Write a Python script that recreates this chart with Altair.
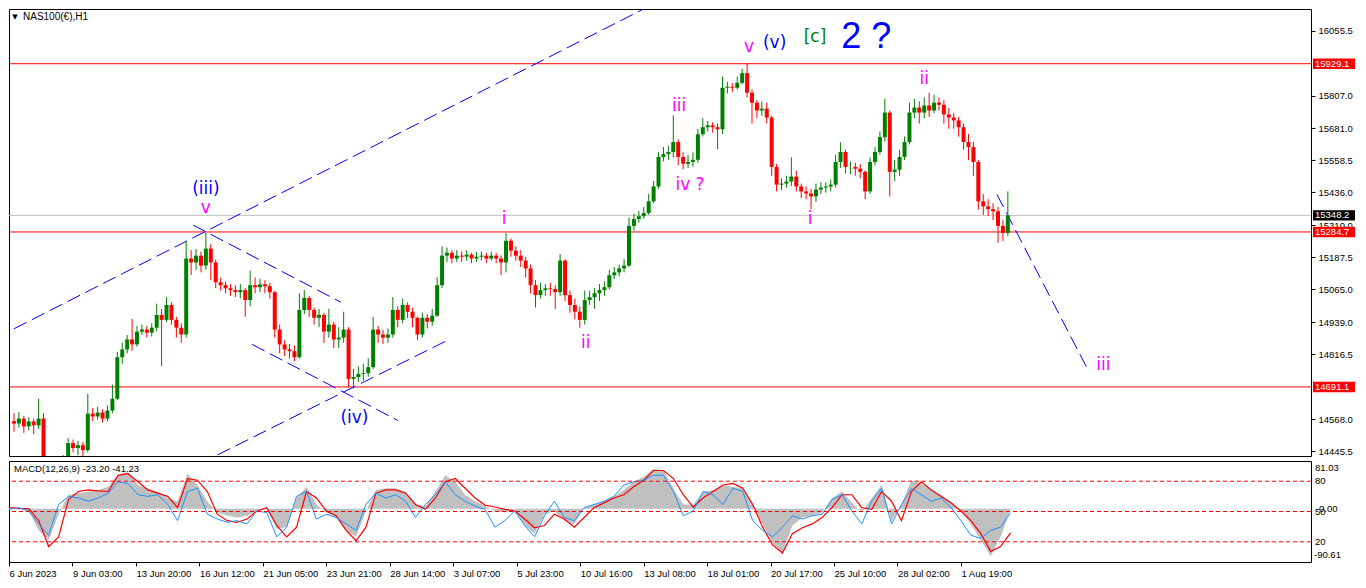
import altair as alt
import pandas as pd

# ---------------- candles (5-hour buckets of the H1 chart) ----------------
OPEN0 = 14560
CANDLE_HOURS = 5
closes = [
    14551, 14570, 14540, 14559, 14544, 14570, 14381, 14374, 14389, 14381,
    14412, 14476, 14457, 14468, 14449, 14589, 14578, 14593, 14570, 14601,
    14646, 14805, 14835, 14873, 14854, 14903, 14911, 14899, 14918, 14967,
    14948, 15005, 14948, 14918, 14892, 15183, 15168, 15194, 15156, 15221,
    15168, 15092, 15081, 15069, 15062, 15054, 15062, 15024, 15081, 15073,
    15084, 15077, 15054, 14911, 14854, 14835, 14828, 14805, 14986, 15032,
    14986, 14956, 14967, 14903, 14930, 14873, 14880, 14911, 14722, 14729,
    14741, 14744, 14767, 14911, 14892, 14880, 14892, 14986, 14948, 15005,
    14979, 14956, 14892, 14956, 14941, 14964, 15081, 15194, 15205, 15183,
    15194, 15190, 15198, 15183, 15190, 15194, 15183, 15194, 15183, 15168,
    15251, 15213, 15194, 15175, 15145, 15081, 15043, 15062, 15069, 15066,
    15054, 15175, 15043, 15005, 14979, 14948, 15024, 15035, 15050, 15062,
    15073, 15119, 15130, 15145, 15156, 15308, 15334, 15345, 15357, 15402,
    15459, 15572, 15583, 15591, 15629, 15572, 15546, 15553, 15561, 15659,
    15686, 15693, 15686, 15678, 15837, 15841, 15837, 15856, 15893, 15818,
    15780, 15750, 15757, 15723, 15534, 15466, 15470, 15478, 15497, 15459,
    15440, 15432, 15421, 15447, 15455, 15459, 15466, 15553, 15591, 15534,
    15534, 15527, 15515, 15440, 15553, 15591, 15648, 15742, 15515, 15523,
    15572, 15629, 15742, 15761, 15742, 15769, 15750, 15780, 15772, 15735,
    15723, 15712, 15686, 15629, 15610, 15553, 15402, 15383, 15372, 15364,
    15308, 15281, 15348,
]
highs = [
    14590, 14595, 14580, 14575, 14570, 14646, 14590, 14400, 14405, 14400,
    14430, 14495, 14490, 14485, 14480, 14665, 14610, 14615, 14605, 14620,
    14700, 14825, 14860, 14890, 14952, 14925, 14930, 14925, 14935, 15010,
    14990, 15035, 15015, 14960, 14935, 15250, 15215, 15220, 15210, 15281,
    15240, 15180, 15110, 15095, 15085, 15080, 15085, 15070, 15137, 15110,
    15105, 15100, 15090, 15060, 14930, 14870, 14855, 14850, 15050, 15062,
    15040, 14995, 14990, 14975, 14990, 14940, 14920, 14979, 14920, 14760,
    14770, 14780, 14800, 14960, 14925, 14910, 14915, 15035, 15000, 15030,
    15015, 14995, 14960, 14975, 14970, 14990, 15110, 15230, 15225, 15215,
    15215, 15210, 15215, 15205, 15208, 15210, 15205, 15210, 15205, 15195,
    15281, 15260, 15230, 15215, 15190, 15160, 15100, 15090, 15085, 15090,
    15080, 15200, 15180, 15060, 15030, 15000, 15060, 15060, 15070, 15085,
    15095, 15140, 15150, 15160, 15180, 15340, 15355, 15365, 15380, 15430,
    15480, 15590, 15610, 15615, 15731, 15640, 15590, 15580, 15590, 15680,
    15720, 15710, 15705, 15700, 15880, 15860, 15855, 15880, 15910, 15931,
    15830, 15790, 15785, 15780, 15730, 15545, 15490, 15500, 15570, 15520,
    15470, 15460, 15450, 15470, 15475, 15475, 15485, 15580, 15628, 15600,
    15555, 15550, 15545, 15520, 15570, 15610, 15670, 15795, 15750, 15560,
    15600, 15650, 15780, 15795, 15785, 15800, 15818, 15810, 15800, 15790,
    15760, 15740, 15725, 15700, 15660, 15630, 15560, 15430, 15410, 15395,
    15380, 15330, 15440,
]
lows = [
    14520, 14535, 14515, 14525, 14510, 14530, 14360, 14350, 14355, 14360,
    14370, 14405, 14440, 14430, 14425, 14440, 14560, 14565, 14555, 14560,
    14590, 14640, 14780, 14820, 14830, 14845, 14890, 14880, 14885, 14905,
    14771, 14940, 14930, 14880, 14860, 14880, 15120, 15140, 15130, 15140,
    15100, 15070, 15060, 15050, 15040, 15035, 15030, 14960, 15000, 15050,
    15055, 15050, 15030, 14880, 14820, 14810, 14800, 14790, 14800, 14970,
    14960, 14930, 14920, 14860, 14880, 14840, 14840, 14860, 14690, 14685,
    14710, 14715, 14730, 14760, 14860, 14855, 14860, 14880, 14920, 14935,
    14955, 14920, 14870, 14880, 14915, 14925, 14960, 15070, 15170, 15165,
    15170, 15170, 15175, 15165, 15170, 15175, 15165, 15175, 15165, 15120,
    15130, 15190, 15175, 15150, 15110, 15050, 14995, 15030, 15040, 15040,
    14990, 15040, 15020, 14975, 14950, 14918, 14930, 15005, 14990, 15020,
    15040, 15065, 15105, 15115, 15130, 15150, 15290, 15320, 15335, 15350,
    15395, 15450, 15555, 15560, 15570, 15540, 15525, 15530, 15535, 15550,
    15650, 15670, 15665, 15602, 15660, 15815, 15820, 15830, 15850, 15800,
    15700, 15720, 15730, 15700, 15500, 15440, 15445, 15455, 15460, 15440,
    15415, 15410, 15372, 15400, 15430, 15435, 15440, 15455, 15530, 15510,
    15505, 15500, 15490, 15410, 15430, 15540, 15580, 15630, 15420, 15480,
    15500, 15560, 15620, 15720, 15700, 15720, 15725, 15740, 15750, 15700,
    15680, 15680, 15650, 15600, 15560, 15500, 15370, 15350, 15345, 15330,
    15243, 15250, 15270,
]

# ---------------- MACD panel (sampled every 10 hours) ----------------
MACD_HOURS = 10
macd_hist = [
    1.7, -1.1, -3.9, -36.9, -53.4, -9.4, 23.7, 26.4, 29.2, 31.9,
    37.4, 56.7, 62.2, 40.2, 34.7, 29.2, 18.2, 12.7, 59.4, 40.2,
    12.7, -6.6, -12.1, -14.9, -12.1, -3.9, -1.1, -34.1, -31.4, 18.2,
    37.4, 7.2, -6.6, -14.9, -36.9, -47.9, -3.9, 31.9, 34.7, 34.7,
    29.2, 7.2, 4.4, 29.2, 56.7, 45.7, 23.7, 12.7, 4.4, -3.9,
    -6.6, -1.1, -28.6, -42.4, -9.4, -3.9, -20.4, -25.9, 1.7, 7.2,
    12.7, 20.9, 31.9, 45.7, 53.9, 67.7, 64.9, 34.7, 7.2, 7.2,
    29.2, 31.9, 40.2, 37.4, 34.7, 7.2, -25.9, -58.9, -75.4, -28.6,
    -14.9, -12.1, -6.6, 18.2, 29.2, 9.9, -6.6, 18.2, 40.2, -20.4,
    7.2, 48.4, 42.9, 31.9, 23.7, 9.9, -3.9, -25.9, -53.4, -80.9,
    -47.9, -1.1,
]
macd_signal = [
    1.7, 0.6, 0.0, -20.4, -64.4, -47.9, 15.4, 29.2, 31.9, 30.3,
    29.2, 56.7, 59.4, 45.7, 31.9, 26.4, 20.9, 1.7, 51.2, 48.4,
    29.2, -9.4, -20.4, -23.1, -17.6, -3.9, 1.7, -28.6, -47.9, -31.4,
    29.2, 18.2, -3.9, -12.1, -36.9, -54.5, -31.4, 26.4, 31.9, 31.9,
    26.4, 7.2, -1.1, 18.2, 45.7, 51.2, 34.7, 18.2, 6.1, 2.8,
    -1.1, -3.9, -17.6, -32.5, -28.6, -9.4, -17.6, -31.4, -14.9, 1.7,
    9.9, 18.2, 23.7, 37.4, 48.4, 64.9, 64.9, 51.2, 23.7, 2.8,
    18.2, 29.2, 40.2, 42.9, 34.7, 7.2, -31.4, -61.6, -75.4, -42.4,
    -32.5, -25.9, -14.9, 1.7, 23.7, 23.7, 1.7, -1.1, 29.2, 12.7,
    -20.4, 29.2, 45.7, 31.9, 20.9, 9.9, -3.9, -20.4, -42.4, -72.6,
    -64.4, -41.2,
]
macd_fast = [
    -1.1, 1.7, -3.9, -25.9, -45.1, 7.2, 20.9, 18.2, 12.7, 18.2,
    26.4, 45.7, 42.9, 23.7, 20.9, 23.7, 7.2, -20.4, 29.2, 34.7,
    -9.4, -17.6, -23.1, -20.4, -25.9, -3.9, -6.6, -47.9, -31.4, 20.9,
    29.2, -17.6, -9.4, -14.9, -25.9, -36.9, 7.2, 26.4, 18.2, 23.7,
    12.7, -14.9, 7.2, 23.7, 45.7, 23.7, 12.7, 4.4, -1.1, -31.4,
    -20.4, -3.9, -28.6, -47.9, -12.1, 12.7, -14.9, -20.4, 1.7, 7.2,
    12.7, 20.9, 40.2, 45.7, 48.4, 56.7, 56.7, 29.2, -12.1, -3.9,
    29.2, 23.7, 7.2, 34.7, 29.2, -20.4, -36.9, -47.9, -31.4, -12.1,
    -17.6, -12.1, -9.4, 15.4, 23.7, -3.9, -25.9, 12.7, 34.7, -25.9,
    7.2, 34.7, 23.7, 12.7, 18.2, 1.7, -20.4, -45.1, -50.6, -36.9,
    -31.4, -6.6,
]
MACD_MIN, MACD_MAX = -90.61, 81.03
stoch_levels = [80, 50, 20]

# ---------------- levels, ticks, annotations ----------------
red_levels = [15929.1, 15284.7, 14691.1]
bid_price = 15348.2
tag_prices = [15929.1, 15348.2, 15284.7, 14691.1]
tag_fills = ["#ff0000", "#000000", "#ff0000", "#ff0000"]
price_ticks = [16055.5, 15807.0, 15681.0, 15558.5, 15436.0, 15310.0,
               15187.5, 15065.0, 14939.0, 14816.5, 14568.0, 14445.5]
tick_hours = [0, 64, 128, 192, 256, 320, 384, 448, 512, 576, 640, 704, 768, 832, 896, 960]
tick_labels = ["6 Jun 2023", "9 Jun 03:00", "13 Jun 20:00", "16 Jun 12:00",
               "21 Jun 05:00", "23 Jun 21:00", "28 Jun 14:00", "3 Jul 07:00",
               "5 Jul 23:00", "10 Jul 16:00", "13 Jul 08:00", "18 Jul 01:00",
               "20 Jul 17:00", "25 Jul 10:00", "28 Jul 02:00", "1 Aug 19:00"]

seg_ids = ["a", "a", "b", "b", "c", "c", "d", "d", "e", "e"]
seg_hours = [0, 640, 207, 438, 182, 332, 242, 390, 999, 1090]
seg_prices = [14914, 16139, 14431, 14865, 15311, 15016, 14854, 14563, 15428, 14767]

wave_hours = [195, 195, 346, 498, 581, 676, 687, 747, 773, 814, 925, 809, 1107]
wave_prices = [15451, 15375, 14572, 15334, 14861, 15769, 15466, 15995, 16009, 16031, 15871, 15334, 14775]
wave_text = ["(iii)", "v", "(iv)", "i", "ii", "iii", "iv ?", "v", "(v)", "[c]", "ii", "i", "iii"]
wave_color = ["#0000ff", "#ff00ff", "#0000ff", "#ff00ff", "#ff00ff", "#ff00ff", "#ff00ff",
              "#ff00ff", "#0000ff", "#008000", "#ff00ff", "#ff00ff", "#ff00ff"]
big_hours = [866]
big_prices = [16033]
big_text = ["2 ?"]

# ---------------- build frames ----------------
opens = [OPEN0] + closes[:-1]
candles = pd.DataFrame({
    "t": [i * CANDLE_HOURS for i in range(len(closes))],
    "open": opens, "close": closes, "high": highs, "low": lows,
    "dir": ["up" if c >= o else "down" for o, c in zip(opens, closes)],
})
macd = pd.DataFrame({
    "t": [i * MACD_HOURS for i in range(len(macd_hist))],
    "hist": macd_hist, "signal": macd_signal, "fast": macd_fast,
})
segs = pd.DataFrame({"seg": seg_ids, "t": seg_hours, "p": seg_prices})
waves = pd.DataFrame({"t": wave_hours, "p": wave_prices, "txt": wave_text, "col": wave_color})
bigs = pd.DataFrame({"t": big_hours, "p": big_prices, "txt": big_text})
tags = pd.DataFrame({"price": tag_prices, "fill": tag_fills})
reds = pd.DataFrame({"p": red_levels})
bid = pd.DataFrame({"p": [bid_price]})
lv = pd.DataFrame({"lvl": stoch_levels, "txt": [str(v) for v in stoch_levels]})

W, H1, H2 = 1302, 447, 101
FONT = "Liberation Sans"
xsc = alt.Scale(domain=[0, 1313], nice=False, zero=False)
ysc = alt.Scale(domain=[14426.6, 16138.7], nice=False, zero=False)
yax = alt.Axis(orient="right", values=price_ticks, format=".1f", title=None, grid=False,
               domain=False, tickSize=4, tickColor="black", labelColor="black",
               labelFont=FONT, labelFontSize=9.5, labelPadding=3, labelFlush=False,
               labelOverlap=False)


def PX(f="t"):
    return alt.X(f"{f}:Q", scale=xsc, axis=None)


def PY(f):
    return alt.Y(f"{f}:Q", scale=ysc, axis=yax)


dir_color = alt.Color("dir:N", scale=alt.Scale(domain=["up", "down"], range=["#008000", "#ff0000"]),
                      legend=None)

red_lines = alt.Chart(reds).mark_rule(color="#ff0000", strokeWidth=1).encode(y=PY("p"))
bid_line = alt.Chart(bid).mark_rule(color="#c0c0c0", strokeWidth=1).encode(y=PY("p"))
channel = alt.Chart(segs).mark_line(color="#0000ff", strokeWidth=1, strokeDash=[14, 6], clip=True).encode(
    x=PX(), y=PY("p"), detail="seg:N")
wicks = alt.Chart(candles).mark_rule(strokeWidth=1, clip=True).encode(
    x=PX(), y=PY("low"), y2="high:Q", color=dir_color)
bodies = alt.Chart(candles).mark_bar(width=4, clip=True).encode(
    x=PX(), y=PY("open"), y2="close:Q", color=dir_color)
wave_lbl = alt.Chart(waves).mark_text(font="DejaVu Sans", fontSize=17, baseline="middle").encode(
    x=PX(), y=PY("p"), text="txt:N", color=alt.Color("col:N", scale=None))
big_lbl = alt.Chart(bigs).mark_text(font=FONT, fontSize=36, baseline="middle", color="#0000ff").encode(
    x=PX(), y=PY("p"), text="txt:N")
tag_rect = alt.Chart(tags).transform_calculate(lo="datum.price - 20", hi="datum.price + 20").mark_rect().encode(
    x=alt.value(W + 2), x2=alt.value(W + 44), y=PY("lo"), y2="hi:Q", color=alt.Color("fill:N", scale=None))
tag_text = alt.Chart(tags).mark_text(align="left", baseline="middle", color="white", font=FONT,
                                     fontSize=9.5).encode(
    x=alt.value(W + 4), y=PY("price"), text=alt.Text("price:Q", format=".1f"))
title_df = pd.DataFrame({"txt": ["NAS100(€),H1"]})
title = alt.Chart(title_df).mark_text(align="left", baseline="middle", font=FONT, fontSize=10,
                                      color="black").encode(x=alt.value(14), y=alt.value(8), text="txt:N")
tri = alt.Chart(pd.DataFrame({"txt": ["▼"]})).mark_text(font="DejaVu Sans", fontSize=7, color="black",
                                                        baseline="middle").encode(
    x=alt.value(6), y=alt.value(8), text="txt:N")

main = alt.layer(red_lines, bid_line, channel, wicks, bodies, wave_lbl, big_lbl,
                 title, tri, tag_rect, tag_text).properties(width=W, height=H1)

# ---------------- MACD panel ----------------
xax = alt.Axis(values=tick_hours, title=None, grid=False, domain=False, tickSize=4, tickColor="black",
               labelAlign="left", labelFont=FONT, labelFontSize=9.5, labelColor="black",
               labelPadding=2, labelFlush=False, labelOverlap=False,
               labelExpr="[" + ",".join(repr(s) for s in tick_labels) + "][indexof(["
                         + ",".join(str(v) for v in tick_hours) + "], datum.value)]")
MX = alt.X("t:Q", scale=xsc, axis=xax)
msc = alt.Scale(domain=[MACD_MIN, MACD_MAX], nice=False, zero=False)
ssc = alt.Scale(domain=[0, 100], nice=False, zero=False)

area = alt.Chart(macd).mark_area(color="#c0c0c0", clip=True).encode(
    x=MX, y=alt.Y("hist:Q", scale=msc, axis=None), y2=alt.datum(0))
sig = alt.Chart(macd).mark_line(color="#ff0000", strokeWidth=1.2, clip=True).encode(
    x=MX, y=alt.Y("signal:Q", scale=msc, axis=None))
fast = alt.Chart(macd).mark_line(color="#1e90ff", strokeWidth=1, clip=True).encode(
    x=MX, y=alt.Y("fast:Q", scale=msc, axis=None))
zero_lbl = alt.Chart(pd.DataFrame({"v": [0.0], "txt": ["0.00"]})).mark_text(
    align="left", baseline="middle", font=FONT, fontSize=9.5, color="black").encode(
    x=alt.value(W + 8), y=alt.Y("v:Q", scale=msc, axis=None), text="txt:N")
macd_layer = alt.layer(area, sig, fast, zero_lbl)

lvl_rules = alt.Chart(lv).mark_rule(color="#ff0000", strokeDash=[4, 3], strokeWidth=1).encode(
    y=alt.Y("lvl:Q", scale=ssc, axis=None))
lvl_text = alt.Chart(lv).mark_text(align="left", baseline="middle", font=FONT, fontSize=9.5,
                                   color="black").encode(
    x=alt.value(W + 4), y=alt.Y("lvl:Q", scale=ssc, axis=None), text="txt:N")
lvl_layer = alt.layer(lvl_rules, lvl_text)

top_lbl = alt.Chart(pd.DataFrame({"txt": ["81.03"]})).mark_text(
    align="left", baseline="middle", font=FONT, fontSize=9.5, color="black").encode(
    x=alt.value(W + 4), y=alt.value(7), text="txt:N")
bot_lbl = alt.Chart(pd.DataFrame({"txt": ["-90.61"]})).mark_text(
    align="left", baseline="middle", font=FONT, fontSize=9.5, color="black").encode(
    x=alt.value(W + 3), y=alt.value(H2 - 7), text="txt:N")
macd_title = alt.Chart(pd.DataFrame({"txt": ["MACD(12,26,9) -23.20 -41.23"]})).mark_text(
    align="left", baseline="middle", font=FONT, fontSize=9.5, color="black").encode(
    x=alt.value(5), y=alt.value(8), text="txt:N")

macd_panel = alt.layer(macd_layer, lvl_layer, top_lbl, bot_lbl, macd_title).resolve_scale(
    y="independent").properties(width=W, height=H2)

chart = alt.vconcat(main, macd_panel, spacing=3).properties(
    padding=0, background="white").configure_view(stroke="black", strokeWidth=1)

chart.save("out.html", embed_options={"renderer": "svg", "actions": False})
